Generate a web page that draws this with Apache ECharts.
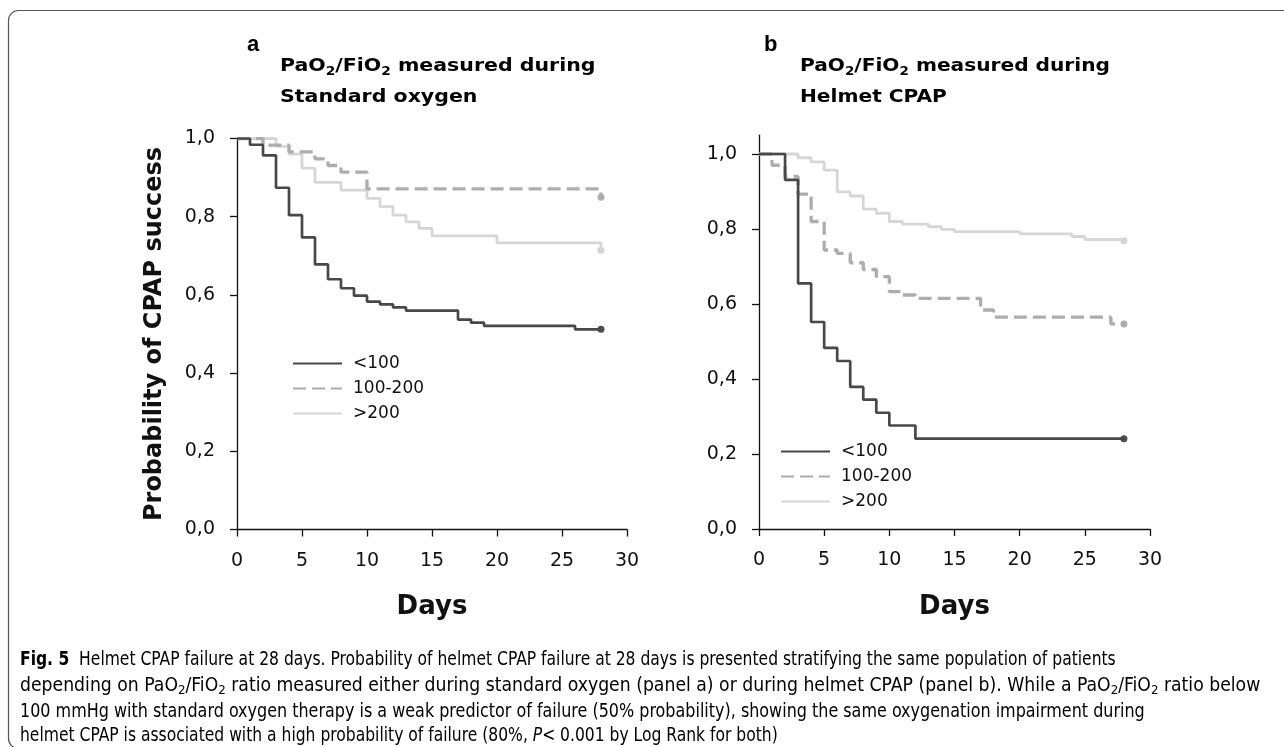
<!DOCTYPE html>
<html>
<head>
<meta charset="utf-8">
<script src="https://cdn.jsdelivr.net/npm/echarts@6/dist/echarts.min.js"></script>
<style>
  html, body { margin: 0; padding: 0; background: #fff; }
  #chart { width: 1284px; height: 747px; }
</style>
</head>
<body>
<div id="chart"></div>
<script>
// groups of PaO2/FiO2 ratio
var groups = ['<100', '100-200', '>200'];
var xTicks = [0, 5, 10, 15, 20, 25, 30];
var yTicks = [0, 0.2, 0.4, 0.6, 0.8, 1.0];

// Kaplan-Meier steps, [day, probability]; every point starts a new level
// panel a: PaO2/FiO2 measured during standard oxygen
var stdLow = [[0, 1.0], [1, 0.984], [2, 0.957], [3, 0.874], [4, 0.804], [5, 0.747], [6, 0.678], [7, 0.64], [8, 0.617], [9, 0.598], [10, 0.583], [11, 0.576], [12, 0.568], [13, 0.56], [17, 0.537], [18, 0.529], [19, 0.521], [26, 0.512], [28, 0.512]];
var stdMid = [[0, 1.0], [2, 0.983], [4, 0.966], [6, 0.948], [7, 0.931], [8, 0.914], [10, 0.871], [28, 0.85]];
var stdHigh = [[0, 1.0], [3, 0.98], [4, 0.96], [5, 0.924], [6, 0.888], [8, 0.868], [10, 0.847], [11, 0.826], [12, 0.804], [13, 0.787], [14, 0.77], [15, 0.751], [20, 0.733], [28, 0.714]];

// panel b: PaO2/FiO2 measured during helmet CPAP
var helLow = [[0, 1.0], [2, 0.931], [3, 0.655], [4, 0.552], [5, 0.483], [6, 0.448], [7, 0.379], [8, 0.345], [9, 0.31], [10, 0.276], [12, 0.241], [28, 0.241]];
var helMid = [[0, 1.0], [1, 0.97], [2, 0.94], [3, 0.893], [4, 0.82], [5, 0.744], [6, 0.735], [7, 0.71], [8, 0.692], [9, 0.673], [10, 0.633], [11, 0.624], [12, 0.615], [17, 0.584], [18, 0.565], [27, 0.547], [28, 0.547]];
var helHigh = [[0, 1.0], [3, 0.99], [4, 0.979], [5, 0.957], [6, 0.899], [7, 0.888], [8, 0.853], [9, 0.842], [10, 0.82], [11, 0.813], [13, 0.806], [14, 0.799], [15, 0.793], [20, 0.787], [24, 0.78], [25, 0.772], [28, 0.769]];

var styles = {
    '<100': { color: '#484848', type: 'solid', width: 2.7, dot: '#222' },
    '100-200': { color: '#adadad', type: [13, 6], width: 3.3, dot: '#999' },
    '>200': { color: '#d6d6d6', type: 'solid', width: 2.8, dot: '#c8c8c8' }
};

var tickFont = 'DejaVu Sans';
var boldFont = 'DejaVu Sans';
var capFont = "'Liberation Sans Narrow', 'DejaVu Sans Condensed', sans-serif";

function km(name, data, idx) {
    var s = styles[name];
    return {
        name: name,
        type: 'line',
        step: 'end',
        xAxisIndex: idx,
        yAxisIndex: idx,
        symbol: 'none',
        silent: true,
        lineStyle: { color: s.color, width: s.width, type: s.type, cap: 'butt' },
        itemStyle: { color: s.color },
        data: data
    };
}

// censoring dot at the end of follow-up
function endDot(name, data, idx) {
    return {
        name: name + ' end',
        type: 'scatter',
        xAxisIndex: idx,
        yAxisIndex: idx,
        symbolSize: 7,
        silent: true,
        itemStyle: { color: styles[name].dot },
        data: [data[data.length - 1]]
    };
}

function xAxis(idx) {
    return {
        type: 'value', gridIndex: idx, min: 0, max: 30, interval: 5,
        name: 'Days', nameLocation: 'middle', nameGap: 65,
        nameTextStyle: { fontFamily: boldFont, fontWeight: 'bold', fontSize: 26, color: '#111' },
        axisLine: { lineStyle: { color: '#111', width: 1.3 } },
        axisTick: { length: 7, lineStyle: { color: '#111', width: 1.3 } },
        axisLabel: { fontFamily: tickFont, fontSize: 19, color: '#111', margin: 22 },
        splitLine: { show: false }
    };
}

function yAxis(idx, max, withName) {
    return {
        type: 'value', gridIndex: idx, min: 0, max: max,
        name: withName ? 'Probability of CPAP success' : '',
        nameLocation: 'middle', nameGap: 70,
        nameTextStyle: { fontFamily: boldFont, fontWeight: 'bold', fontSize: 24, color: '#111' },
        axisLine: { show: true, lineStyle: { color: '#111', width: 1.3 } },
        axisTick: { show: true, length: 7, customValues: yTicks, lineStyle: { color: '#111', width: 1.3 } },
        axisLabel: {
            fontFamily: tickFont, fontSize: 19, color: '#111', margin: 22, customValues: yTicks,
            formatter: function (v) { return v.toFixed(1).replace('.', ','); }
        },
        splitLine: { show: false }
    };
}

function legend(left, top) {
    return {
        left: left, top: top, orient: 'vertical', data: groups, padding: 0,
        itemWidth: 49, itemHeight: 14, itemGap: 8, selectedMode: false,
        itemStyle: { opacity: 0 },
        textStyle: { fontFamily: tickFont, fontSize: 17, color: '#111', padding: [0, 0, 0, 6] }
    };
}

var titleRich = {
    t: { fontFamily: boldFont, fontWeight: 'bold', fontSize: 18, color: '#111' },
    s: { fontFamily: boldFont, fontWeight: 'bold', fontSize: 12, color: '#111', padding: [12, 0, 0, 0] }
};
var capRich = {
    b: { fontFamily: capFont, fontWeight: 'bold', fontSize: 19, color: '#222' },
    n: { fontFamily: capFont, fontSize: 19, color: '#333' },
    i: { fontFamily: capFont, fontStyle: 'italic', fontSize: 19, color: '#333' },
    s: { fontFamily: capFont, fontSize: 13, color: '#333', padding: [10, 0, 0, 0] }
};

function txt(x, y, text, rich, sx) {
    return {
        type: 'text', silent: true, x: x, y: y, scaleX: sx || 1,
        style: { x: 0, y: 0, text: text, rich: rich, verticalAlign: 'middle' }
    };
}

var captionLines = [
    '{b|Fig. 5}{n|  Helmet CPAP failure at 28 days. Probability of helmet CPAP failure at 28 days is presented stratifying the same population of patients}',
    '{n|depending on PaO}{s|2}{n|/FiO}{s|2}{n| ratio measured either during standard oxygen (panel a) or during helmet CPAP (panel b). While a PaO}{s|2}{n|/FiO}{s|2}{n| ratio below}',
    '{n|100 mmHg with standard oxygen therapy is a weak predictor of failure (50% probability), showing the same oxygenation impairment during}',
    '{n|helmet CPAP is associated with a high probability of failure (80%, }{i|P}{n|< 0.001 by Log Rank for both)}'
];
var capY = [660, 686, 712, 736];
var capScale = [0.91, 1.01, 0.935, 0.91];

var letterRich = { t: { fontFamily: 'Liberation Sans', fontWeight: 'bold', fontSize: 22, color: '#111' } };
var graphics = [
    { type: 'rect', silent: true, shape: { x: 8.5, y: 10.5, width: 1300, height: 738, r: 10 },
      style: { fill: 'none', stroke: '#555', lineWidth: 1.2 } },
    txt(247, 45, '{t|a}', letterRich),
    txt(764, 45, '{t|b}', letterRich),
    txt(280, 66, '{t|PaO}{s|2}{t|/FiO}{s|2}{t| measured during}', titleRich, 1.14),
    txt(280, 97, '{t|Standard oxygen}', titleRich, 1.14),
    txt(800, 66, '{t|PaO}{s|2}{t|/FiO}{s|2}{t| measured during}', titleRich, 1.12),
    txt(800, 97, '{t|Helmet CPAP}', titleRich, 1.12)
];
captionLines.forEach(function (line, i) {
    graphics.push(txt(20, capY[i], line, capRich, capScale[i]));
});

var chart = echarts.init(document.getElementById('chart'));
chart.setOption({
    animation: false,
    backgroundColor: '#fff',
    grid: [
        { left: 237, top: 138.5, width: 390, height: 391 },
        { left: 759, top: 135.25, width: 391, height: 393.75 }
    ],
    xAxis: [xAxis(0), xAxis(1)],
    yAxis: [yAxis(0, 1.0, true), yAxis(1, 1.05, false)],
    legend: [legend(292, 355), legend(780, 443)],
    graphic: graphics,
    series: [
        km('>200', stdHigh, 0),
        km('100-200', stdMid, 0),
        km('<100', stdLow, 0),
        km('>200', helHigh, 1),
        km('100-200', helMid, 1),
        km('<100', helLow, 1),
        endDot('>200', stdHigh, 0),
        endDot('100-200', stdMid, 0),
        endDot('<100', stdLow, 0),
        endDot('>200', helHigh, 1),
        endDot('100-200', helMid, 1),
        endDot('<100', helLow, 1)
    ]
});
</script>
</body>
</html>
